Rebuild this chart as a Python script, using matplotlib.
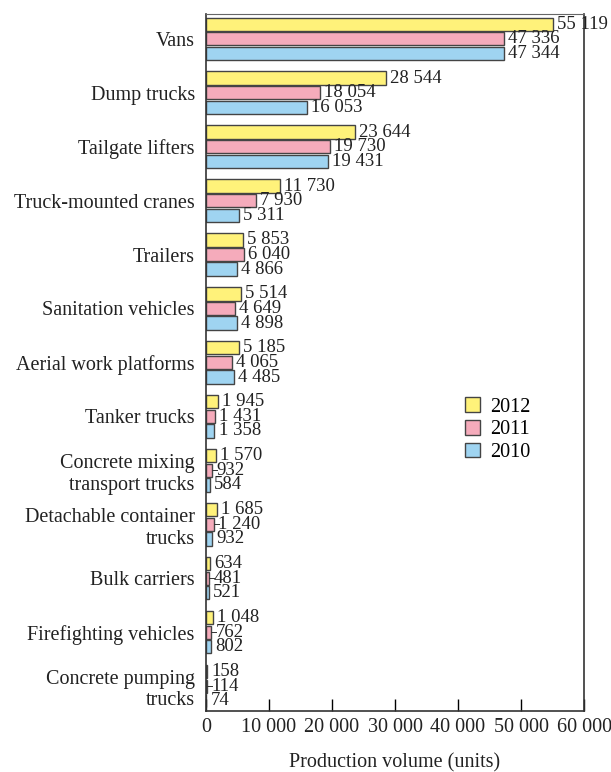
import matplotlib
matplotlib.use("Agg")

import numpy as np
import matplotlib.pyplot as plt

# ================================
# DATA
# ================================
categories = [
    "Vans", "Dump trucks", "Tailgate lifters", "Truck-mounted cranes",
    "Trailers", "Sanitation vehicles", "Aerial work platforms",
    "Tanker trucks", "Concrete mixing\ntransport trucks",
    "Detachable container\ntrucks", "Bulk carriers",
    "Firefighting vehicles", "Concrete pumping\ntrucks",
]
years = ["2012", "2011", "2010"]
vals_2012 = [55119, 28544, 23644, 11730, 5853, 5514, 5185, 1945, 1570, 1685, 634, 1048, 158]
vals_2011 = [47336, 18054, 19730, 7930, 6040, 4649, 4065, 1431, 932, 1240, 481, 762, 114]
vals_2010 = [47344, 16053, 19431, 5311, 4866, 4898, 4485, 1358, 584, 932, 521, 802, 74]
colors = ["#FFF27A", "#F5ABBB", "#9FD4F1"]
x_ticks = [0, 10000, 20000, 30000, 40000, 50000, 60000]

plt.rcParams["font.family"] = ["Liberation Serif", "DejaVu Serif"]
FS = 14.5
FS_VAL = 13.5


def fmt(v):
    return f"{v:,}".replace(",", " ")


fig = plt.figure(figsize=(6.11, 7.72), dpi=100)
ax = fig.add_axes([0.337, 0.079, 0.619, 0.903])

y = np.arange(len(categories))
h = 0.245
step = 0.27
series = [vals_2012, vals_2011, vals_2010]
for i, (vals, col, yr) in enumerate(zip(series, colors, years)):
    pos = y + (i - 1) * step
    ax.barh(pos, vals, height=h, color=col, edgecolor="#444444",
            linewidth=1.0, label=yr)
    for p, v in zip(pos, vals):
        tx = v + 650
        if i == 1 and v < 1300:
            # short leader line for the crowded middle bars
            ax.plot([v, v + 800], [p, p], color="#333333", lw=0.7)
            tx = v + 750
        ax.text(tx, p, fmt(v), va="center", ha="left", fontsize=FS_VAL,
                color="#222222")

ax.set_ylim(len(categories) - 1 + 0.46, -0.46)
ax.set_xlim(0, 60000)
ax.set_yticks(y)
ax.set_yticklabels(categories, fontsize=FS, color="#222222",
                   linespacing=1.2)
ax.tick_params(axis="y", length=0, pad=8)
ax.set_xticks(x_ticks)
ax.set_xticklabels([fmt(t) for t in x_ticks], fontsize=FS, color="#222222")
ax.tick_params(axis="x", direction="in", length=9, width=1, pad=5,
               top=False)
ax.set_xlabel("Production volume (units)", fontsize=FS, labelpad=12,
              color="#222222")
for s in ["left", "bottom", "right"]:
    ax.spines[s].set_linewidth(1.2)
    ax.spines[s].set_color("#333333")
ax.spines["top"].set_linewidth(0.8)
ax.spines["top"].set_color("#666666")

ax.legend(loc="upper left", bbox_to_anchor=(0.647, 0.47), frameon=False,
          fontsize=FS, handlelength=0.75, handleheight=0.75,
          handletextpad=0.5, labelspacing=0.16, borderpad=0.2)

plt.savefig("out.png", dpi=100)
plt.close()
